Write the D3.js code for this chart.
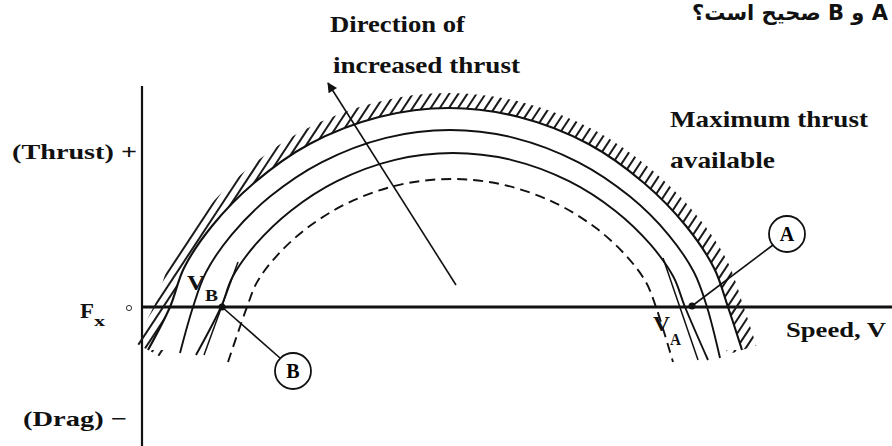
<!DOCTYPE html>
<html><head><meta charset="utf-8">
<script src="https://cdn.jsdelivr.net/npm/d3@7"></script>
<style>html,body{margin:0;padding:0;background:#fff;} svg{display:block;}</style>
</head><body>
<svg id="chart" width="892" height="446"></svg>
<script>
// ---- data (speed units along V, force units along F_x; 0 = axis) ----
const maxThrust = [[6,-43],[28,0],[42,39],[70,81],[112,124],[167.5,163],[237,190],[307,199],[377,190],[446.5,163],[502,124],[544,81],[572,39],[586,0],[600,-43]];
const thrust2   = [[38,-46],[51,0],[64,34.7],[89.5,72.2],[128,110.4],[179.5,144.7],[244,169.2],[308,177],[372,169.2],[436.5,144.7],[488,110.4],[526.5,72.2],[552,34.7],[565,0],[578,-51]];
const thrust3   = [[54,-48],[79,0],[90.6,30.2],[113.8,62.8],[148.6,96.1],[195,125.9],[253,147.2],[311,154],[369,147.2],[427,125.9],[473.4,96.1],[508.2,62.8],[531.4,30.2],[543,0],[566,-53]];
const thrust4   = [[86,-55],[105,0],[115.2,25.1],[135.7,52.2],[166.3,79.9],[207.2,104.7],[258.4,122.4],[309.5,128],[360.6,122.4],[411.8,104.7],[452.7,79.9],[483.3,52.2],[503.8,25.1],[514,0],[531,-55]];
const tangentB  = [[96,45],[62,-48]];
const tangentA  = [[521,49],[556,-53]];
const arrowDir  = [[314,22],[186,224]];
const pointerA  = [[631,62],[550,1]];
const pointerB  = [[80,0],[138,-51]];
const pointA = [550,1], pointB = [80,0];
const circleA = [645,73], circleB = [151,-64];
const titleLines = ["Direction of","increased thrust"];
const maxLabel = ["Maximum thrust","available"];
const yTickLabels = ["(Thrust) +","(Drag) \u2212"];
const xLabel = "Speed, V";
const topText = "A \u0648 B \u0635\u062d\u06cc\u062d \u0627\u0633\u062a\u061f";

const svg = d3.select("#chart");
const x = d3.scaleLinear().domain([0,750]).range([142,892]);
const y = d3.scaleLinear().domain([-139,221]).range([446,86]);
const line = d3.line().x(d=>x(d[0])).y(d=>y(d[1])).curve(d3.curveCatmullRom.alpha(0.5));
const straight = d3.line().x(d=>x(d[0])).y(d=>y(d[1]));
const serif = "'Liberation Serif','Times New Roman',serif";
const defs = svg.append("defs");

// axes
svg.append("line").attr("x1",x(0)).attr("x2",x(0)).attr("y1",y(221)).attr("y2",y(-139)).attr("stroke","#111").attr("stroke-width",2.2);
svg.append("line").attr("x1",x(0)).attr("x2",x(750)).attr("y1",y(0)).attr("y2",y(0)).attr("stroke","#111").attr("stroke-width",2.8);

// hatched band outside the maximum-thrust curve
const bandW = 15;
const mask = defs.append("mask").attr("id","band").attr("maskUnits","userSpaceOnUse")
  .attr("x",0).attr("y",0).attr("width",892).attr("height",446);
mask.append("path").datum(maxThrust).attr("d",line).attr("fill","none").attr("stroke","#fff").attr("stroke-width",2*bandW);
mask.append("path").datum(maxThrust).attr("d",line).attr("fill","#000").attr("stroke","none");
const ux = 0.55, uy = -0.835, px = 0.835, py = 0.55, gap = 7.6;
svg.append("g").attr("mask","url(#band)").selectAll("line").data(d3.range(-130,131)).join("line")
  .attr("x1",k=>446+k*gap*px-900*ux).attr("y1",k=>223+k*gap*py-900*uy)
  .attr("x2",k=>446+k*gap*px+900*ux).attr("y2",k=>223+k*gap*py+900*uy)
  .attr("stroke","#1a1a1a").attr("stroke-width",2);

// curves
const curveStyle = sel => sel.attr("fill","none").attr("stroke","#111").attr("stroke-width",1.9);
svg.append("path").datum(maxThrust).attr("d",line).call(curveStyle).attr("stroke-width",2.1);
svg.append("path").datum(thrust2).attr("d",line).call(curveStyle);
svg.append("path").datum(thrust3).attr("d",line).call(curveStyle);
svg.append("path").datum(thrust4).attr("d",line).call(curveStyle).attr("stroke-dasharray","10,6");
svg.append("path").datum(tangentB).attr("d",straight).call(curveStyle).attr("stroke-width",1.5);
svg.append("path").datum(tangentA).attr("d",straight).call(curveStyle).attr("stroke-width",1.5);

// direction arrow
defs.append("marker").attr("id","ah").attr("viewBox","0 0 10 10").attr("refX",9).attr("refY",5)
  .attr("markerWidth",14).attr("markerHeight",10).attr("markerUnits","userSpaceOnUse").attr("orient","auto")
  .append("path").attr("d","M0,0 L10,5 L0,10 Z").attr("fill","#111");
svg.append("path").datum(arrowDir).attr("d",straight).attr("stroke","#111").attr("stroke-width",1.6).attr("marker-end","url(#ah)");

// pointers, dots, circles
svg.append("path").datum(pointerA).attr("d",straight).attr("stroke","#111").attr("stroke-width",1.6);
svg.append("path").datum(pointerB).attr("d",straight).attr("stroke","#111").attr("stroke-width",1.6);
[pointA,pointB].forEach(p=>svg.append("circle").attr("cx",x(p[0])).attr("cy",y(p[1])).attr("r",3.5).attr("fill","#111"));
[[circleA,"A"],[circleB,"B"]].forEach(([c,t])=>{
  svg.append("circle").attr("cx",x(c[0])).attr("cy",y(c[1])).attr("r",18).attr("fill","#fff").attr("stroke","#111").attr("stroke-width",1.8);
  svg.append("text").attr("x",x(c[0])).attr("y",y(c[1])+7).attr("text-anchor","middle").attr("font-family",serif).attr("font-weight","bold").attr("font-size",20).text(t);
});

// text
function txt(t,x0,y0,size,len){
  const e = svg.append("text").attr("x",x0).attr("y",y0).attr("font-family",serif).attr("font-weight","bold").attr("font-size",size).attr("fill","#111").text(t);
  if(len) e.attr("textLength",len).attr("lengthAdjust","spacingAndGlyphs");
  return e;
}
txt(titleLines[0],330,32,24,135);
txt(titleLines[1],333,73,24,187);
txt(maxLabel[0],670,127,24,198);
txt(maxLabel[1],670,168,24,105);
txt(yTickLabels[0],12,159,22,125);
txt(yTickLabels[1],23,426,22,104);
txt(xLabel,786,337,22,100);
txt("F",80,318,22,14);
txt("x",94,326,15,11);
svg.append("circle").attr("cx",129).attr("cy",308).attr("r",2.6).attr("fill","none").attr("stroke","#333").attr("stroke-width",1);
txt("V",187,290,22,18); txt("B",205,301,16,13);
txt("V",653,331,22,17); txt("A",670,345,16,11);
svg.append("text").attr("x",888).attr("y",20).attr("text-anchor","start").attr("direction","rtl")
  .attr("font-family","'DejaVu Sans',sans-serif").attr("font-weight","bold").attr("font-size",21).attr("fill","#111").text(topText);
</script>
</body></html>
